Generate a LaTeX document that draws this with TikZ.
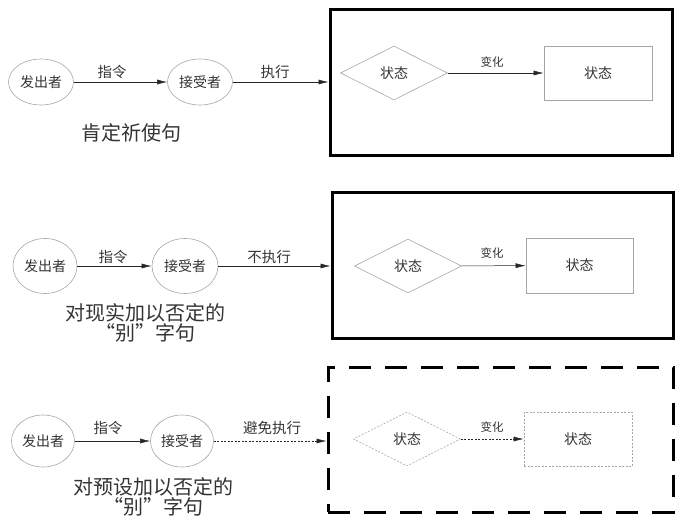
\documentclass[tikz,border=0pt]{standalone}
\usepackage{fontspec}
\newfontfamily\cjk{Noto Sans CJK SC}
\usetikzlibrary{shapes.geometric,arrows.meta}
\begin{document}
\begin{tikzpicture}[x=1pt,y=-1pt,
  every node/.style={font=\cjk\fontsize{14}{16}\selectfont, text=black!80},
  agent/.style={ellipse, draw=gray!70, line width=0.6pt, inner sep=0pt},
  state/.style={diamond, draw=gray!70, line width=0.6pt, inner sep=0pt, minimum width=107pt, minimum height=54pt},
  result/.style={rectangle, draw=gray!70, line width=0.6pt, inner sep=0pt, minimum width=108pt, minimum height=54pt},
  frame/.style={rectangle, draw=black, line width=3pt, inner sep=0pt},
  arr/.style={draw=black!85, line width=0.5pt, -{Latex[length=10pt,width=5pt]}},
  lbl/.style={font=\cjk\fontsize{14.5}{16}\selectfont},
  slbl/.style={font=\cjk\fontsize{11.5}{13}\selectfont},
  captext/.style={font=\cjk\fontsize{20}{20.5}\selectfont, align=center},
  dotline/.style={dash pattern=on 2pt off 1.5pt}
]
\useasboundingbox (0,0) rectangle (675,519);
% ---- Row 1 ----
\node[agent, minimum width=65pt, minimum height=46pt] (s1) at (41,82) {发出者};
\node[agent, minimum width=65pt, minimum height=46pt] (r1) at (200,82) {接受者};
\node[frame, minimum width=342pt, minimum height=145pt] (b1) at (501,82.5) {};
\node[state] (d1) at (394,73) {状态};
\node[result] (t1) at (598,73) {状态};
\draw[arr] (s1) -- (r1);
\draw[arr] (r1) -- (r1 -| b1.west);
\draw[arr] (d1) -- (t1);
\node[lbl] (l1a) at (112,72) {指令};
\node[lbl] (l1b) at (275,72) {执行};
\node[slbl] (l1c) at (492,62) {变化};
\node[captext] (c1) at (131,133) {肯定祈使句};
% ---- Row 2 ----
\node[agent, minimum width=64pt, minimum height=55pt] (s2) at (45,266) {发出者};
\node[agent, minimum width=66pt, minimum height=55pt] (r2) at (185,266) {接受者};
\node[frame, minimum width=341pt, minimum height=146pt] (b2) at (502.5,265) {};
\node[state] (d2) at (408,266) {状态};
\node[result, minimum width=107pt, minimum height=55pt] (t2) at (579.5,265.5) {状态};
\draw[arr] (s2) -- (r2);
\draw[arr] (r2) -- (r2 -| b2.west);
\draw[arr] (d2) -- (t2);
\node[lbl] (l2a) at (113,257) {指令};
\node[lbl] (l2b) at (269,257) {不执行};
\node[slbl] (l2c) at (492,253) {变化};
\node[captext] (c2) at (145,323) {对现实加以否定的\\“别”字句};
% ---- Row 3 ----
\node[agent, minimum width=63pt, minimum height=52pt] (s3) at (43,441) {发出者};
\node[agent, minimum width=63pt, minimum height=52pt] (r3) at (182,441) {接受者};
\node[frame, dash pattern=on 22pt off 14pt, minimum width=345pt, minimum height=145pt] (b3) at (500.5,439.5) {};
\node[state, dotline] (d3) at (407,439) {状态};
\node[result, dotline] (t3) at (578,439) {状态};
\draw[arr] (s3) -- (r3);
\draw[arr, dotline] (r3) -- (r3 -| b3.west);
\draw[arr, dotline] (d3) -- (t3);
\node[lbl] (l3a) at (108,428) {指令};
\node[lbl] (l3b) at (272,428) {避免执行};
\node[slbl] (l3c) at (492,427) {变化};
\node[captext] (c3) at (153,497) {对预设加以否定的\\“别”字句};
\end{tikzpicture}
\end{document}
